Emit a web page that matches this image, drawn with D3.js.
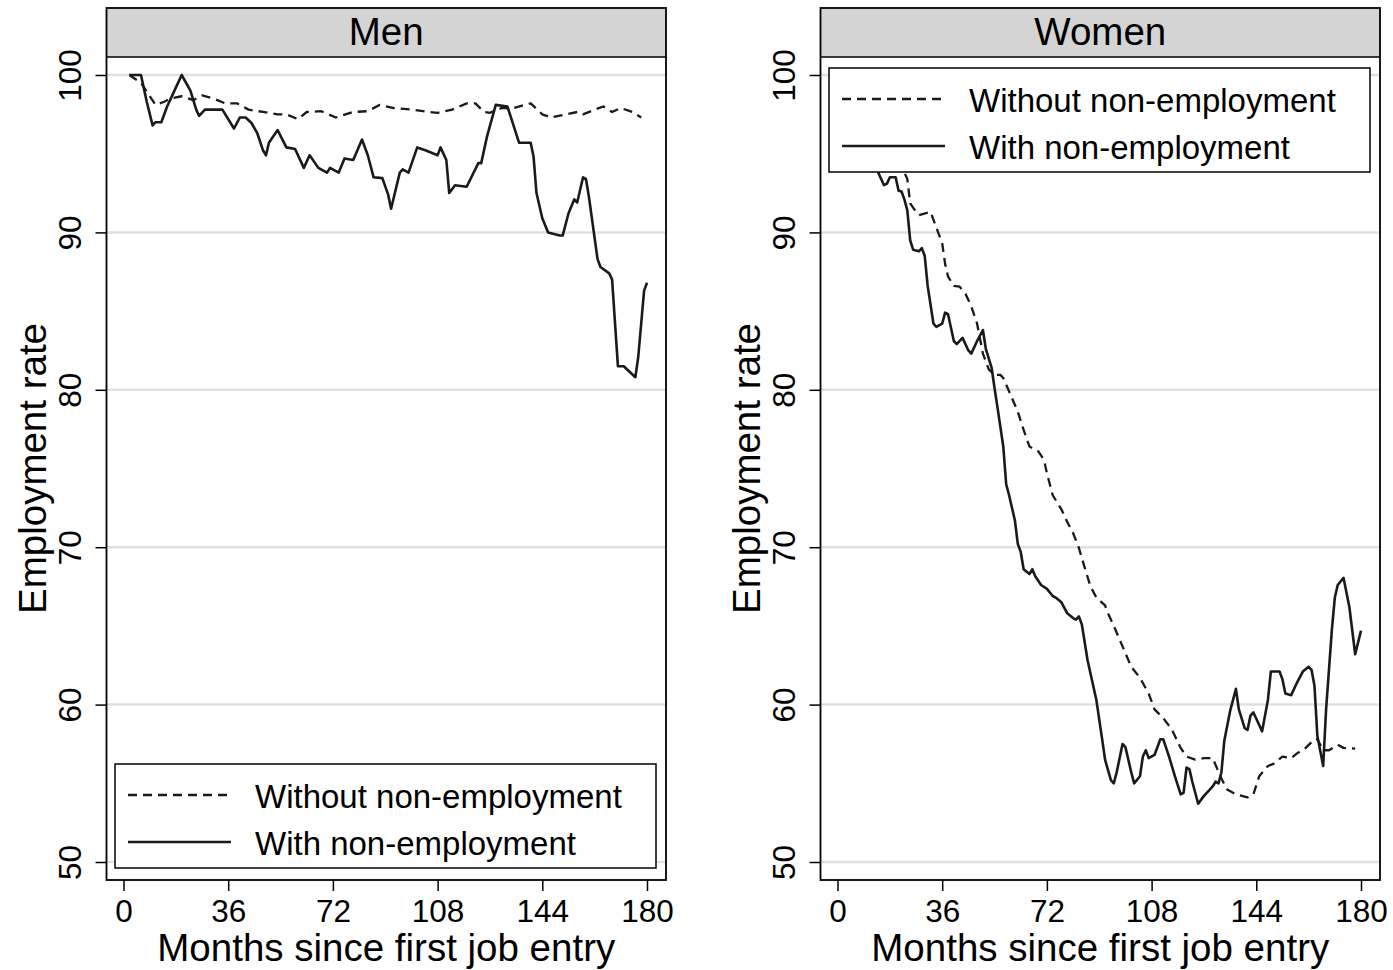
<!DOCTYPE html>
<html lang="en">
<head>
    <meta charset="UTF-8">
    <title>Employment rate by months since first job entry</title>
    <script src="https://d3js.org/d3.v7.min.js"></script>
</head>
<style>
    html,body {
        margin: 0;
        padding: 0;
        background: #fff;
    }
    svg { display: block; font-family: "Liberation Sans", Arial, Helvetica, sans-serif; }
</style>
<body>
    <div id="chart"></div>
</body>
<script>
    // ticks, labels
    const xTicks = [0, 36, 72, 108, 144, 180];
    const yTicks = [50, 60, 70, 80, 90, 100];
    const panelTitles = ["Men", "Women"];
    const seriesNames = ["Without non-employment", "With non-employment"];

    // Men
    const menWithoutMonths = [2, 6, 11, 14, 16, 20, 24, 27, 31, 35, 39, 43, 48, 53, 56, 60, 63, 68, 73, 79, 84, 88, 93, 99, 105, 108, 113, 118, 121, 124, 126, 130, 134, 140, 144, 147, 152, 156, 158, 162, 165, 168, 171, 175, 178];
    const menWithoutValues = [100, 99.5, 98.1, 98.3, 98.5, 98.65, 98.4, 98.7, 98.5, 98.2, 98.2, 97.8, 97.65, 97.5, 97.5, 97.2, 97.65, 97.7, 97.3, 97.65, 97.7, 98.1, 97.9, 97.8, 97.65, 97.6, 97.8, 98.2, 98.2, 97.65, 97.6, 97.9, 97.9, 98.2, 97.5, 97.3, 97.5, 97.65, 97.5, 97.8, 98.0, 97.65, 97.9, 97.65, 97.3];
    const menWithMonths = [2, 6, 8, 10, 11, 13, 15, 18, 20, 23, 25, 26, 28, 34, 38, 40, 42, 44, 46, 48, 49, 50, 53, 56, 59, 62, 64, 67, 70, 71, 74, 76, 79, 82, 84, 86, 89, 91, 92, 95, 96, 98, 101, 104, 108, 109, 111, 112, 114, 118, 122, 123, 125, 128, 132, 136, 140, 141, 142, 144, 146, 150, 151, 153, 155, 156, 158, 159, 160, 163, 164, 167, 168, 170, 172, 176, 177, 179, 180];
    const menWithValues = [100, 100, 98.3, 96.8, 97.0, 97.0, 98.0, 99.2, 100, 99.0, 97.8, 97.4, 97.8, 97.8, 96.6, 97.3, 97.3, 96.95, 96.3, 95.2, 94.9, 95.7, 96.5, 95.4, 95.3, 94.1, 94.9, 94.1, 93.8, 94.1, 93.8, 94.7, 94.6, 95.9, 94.9, 93.5, 93.45, 92.4, 91.5, 93.8, 94.0, 93.8, 95.4, 95.2, 94.9, 95.4, 94.6, 92.5, 93.0, 92.9, 94.4, 94.4, 96.1, 98.1, 98.0, 95.7, 95.7, 94.8, 92.5, 90.9, 90.0, 89.8, 89.8, 91.2, 92.1, 91.9, 93.5, 93.4, 92.3, 88.3, 87.8, 87.4, 87.0, 81.5, 81.5, 80.8, 82.1, 86.3, 86.8];

    // Women
    const womenWithoutMonths = [0, 5, 10, 15, 20, 22, 24, 25, 27, 28, 32, 34, 36, 37, 38, 40, 42, 44, 46, 48, 50, 52, 54, 56, 57, 59, 62, 64, 66, 69, 71, 72, 74, 77, 79, 81, 83, 85, 87, 89, 92, 93, 95, 98, 101, 104, 107, 109, 112, 115, 118, 120, 123, 126, 129, 132, 134, 137, 141, 143, 145, 148, 150, 153, 156, 158, 161, 164, 165, 167, 169, 172, 174, 178];
    const womenWithoutValues = [100, 98.8, 97.5, 96.3, 94.9, 94.2, 93.4, 91.85, 91.3, 91.1, 91.3, 90.3, 89.3, 88.0, 87.2, 86.6, 86.55, 86.1, 85.3, 84.2, 82.3, 81.3, 80.95, 80.95, 80.75, 79.9, 78.6, 77.45, 76.4, 76.1, 75.55, 74.7, 73.3, 72.4, 71.6, 70.9, 69.95, 68.7, 67.5, 66.8, 66.3, 65.8, 65.0, 63.7, 62.4, 61.7, 60.7, 59.7, 59.15, 58.4, 57.25, 56.7, 56.5, 56.6, 56.6, 55.3, 54.6, 54.3, 54.1, 54.3, 55.45, 56.1, 56.25, 56.7, 56.6, 56.9, 57.25, 57.8, 57.8, 57.1, 57.1, 57.45, 57.25, 57.2];
    const womenWithMonths = [0, 4, 8, 11, 14, 16, 17, 18, 20, 21, 22, 23, 24, 25, 26, 28, 29, 30, 31, 33, 34, 36, 37, 38, 40, 41, 43, 45, 46, 48, 50, 51, 53, 54, 55, 57, 58, 59, 61, 62, 63, 64, 66, 67, 68, 70, 72, 74, 75, 77, 79, 81, 82, 83, 84, 86, 89, 91, 92, 94, 95, 96, 98, 99, 101, 102, 104, 105, 106, 107, 109, 111, 112, 114, 116, 118, 119, 120, 121, 122, 124, 126, 128, 129, 130, 131, 132, 133, 135, 137, 138, 140, 141, 142, 143, 145, 146, 148, 149, 152, 153, 154, 156, 158, 160, 162, 163, 164, 165, 167, 168, 170, 171, 172, 174, 176, 178, 180];
    const womenWithValues = [100, 98.4, 96.7, 95.3, 93.8, 93.0, 93.1, 93.5, 93.5, 92.65, 92.6, 92.1, 91.4, 89.5, 88.9, 88.8, 89.0, 88.5, 86.6, 84.2, 84.0, 84.2, 84.9, 84.8, 83.1, 82.9, 83.3, 82.5, 82.3, 83.1, 83.8, 82.6, 81.4, 80.1, 78.9, 76.4, 74.0, 73.3, 71.7, 70.2, 69.7, 68.6, 68.3, 68.6, 68.15, 67.6, 67.35, 66.9, 66.8, 66.5, 65.8, 65.5, 65.4, 65.6, 65.1, 62.8, 60.3, 57.8, 56.5, 55.2, 55.0, 55.7, 57.5, 57.3, 55.7, 55.0, 55.45, 56.7, 57.1, 56.6, 56.8, 57.8, 57.8, 56.7, 55.45, 54.3, 54.4, 56.0, 55.9, 55.1, 53.7, 54.2, 54.6, 54.8, 55.1, 55.0, 55.7, 57.7, 59.6, 61.0, 59.7, 58.5, 58.4, 59.3, 59.5, 58.7, 58.3, 60.3, 62.1, 62.1, 61.6, 60.7, 60.6, 61.4, 62.1, 62.4, 62.2, 61.2, 58.0, 56.1, 59.7, 64.8, 66.8, 67.6, 68.05, 66.2, 63.2, 64.7];

    const svg = d3.select('#chart').append('svg')
        .attr('width', 1393)
        .attr('height', 970);

    const lineColor = '#1a1a1a';
    const dash = '9,6';

    const panels = [
        { title: panelTitles[0], left: 106.5, legendTop: 764,
          series: [d3.zip(menWithoutMonths, menWithoutValues), d3.zip(menWithMonths, menWithValues)] },
        { title: panelTitles[1], left: 820.5, legendTop: 68,
          series: [d3.zip(womenWithoutMonths, womenWithoutValues), d3.zip(womenWithMonths, womenWithValues)] }
    ];

    const plotTop = 8, stripH = 49, plotBottom = 880, panelW = 559.5;

    const y = d3.scaleLinear().domain([50, 100]).range([862, 75]);

    panels.forEach(p => {
        const g = svg.append('g');
        const x = d3.scaleLinear().domain([0, 180]).range([p.left + 17, p.left + 540.5]);

        // grid
        g.append('g')
            .selectAll('line')
            .data(yTicks)
            .enter()
            .append('line')
            .attr('x1', p.left)
            .attr('x2', p.left + panelW)
            .attr('y1', d => y(d))
            .attr('y2', d => y(d))
            .attr('stroke', '#e0e0e0')
            .attr('stroke-width', 2.5);

        // lines
        const line = d3.line().x(d => x(d[0])).y(d => y(d[1]));
        p.series.forEach((s, i) => {
            g.append('path')
                .datum(s)
                .attr('d', line)
                .attr('fill', 'none')
                .attr('stroke', lineColor)
                .attr('stroke-width', i === 0 ? 2.3 : 2.6)
                .attr('stroke-linejoin', 'round')
                .attr('stroke-dasharray', i === 0 ? dash : null);
        });

        // strip
        g.append('rect')
            .attr('x', p.left)
            .attr('y', plotTop)
            .attr('width', panelW)
            .attr('height', stripH)
            .attr('fill', '#d4d4d4');
        g.append('text')
            .attr('x', p.left + panelW / 2)
            .attr('y', plotTop + 37)
            .attr('text-anchor', 'middle')
            .attr('font-size', 38.5)
            .attr('fill', '#000')
            .text(p.title);
        g.append('line')
            .attr('x1', p.left).attr('x2', p.left + panelW)
            .attr('y1', plotTop + stripH).attr('y2', plotTop + stripH)
            .attr('stroke', '#000').attr('stroke-width', 1.5);
        // panel border
        g.append('rect')
            .attr('x', p.left)
            .attr('y', plotTop)
            .attr('width', panelW)
            .attr('height', plotBottom - plotTop)
            .attr('fill', 'none')
            .attr('stroke', '#000')
            .attr('stroke-width', 1.8);

        // legend
        const lg = g.append('g').attr('transform', `translate(${p.left + 8.5},${p.legendTop})`);
        lg.append('rect')
            .attr('width', 541)
            .attr('height', 104)
            .attr('fill', '#fff')
            .attr('stroke', '#000')
            .attr('stroke-width', 1.5);
        seriesNames.forEach((name, i) => {
            const yy = 31 + i * 47;
            lg.append('line')
                .attr('x1', 13).attr('x2', 116)
                .attr('y1', yy).attr('y2', yy)
                .attr('stroke', lineColor)
                .attr('stroke-width', i === 0 ? 2.3 : 2.6)
                .attr('stroke-dasharray', i === 0 ? dash : null);
            lg.append('text')
                .attr('x', 140)
                .attr('y', yy + 13)
                .attr('font-size', 33)
                .attr('fill', '#000')
                .text(name);
        });

        // y axis
        const ya = g.append('g')
            .attr('transform', `translate(${p.left},0)`)
            .call(d3.axisLeft(y).tickValues(yTicks).tickSize(11).tickFormat(d3.format('d')));
        ya.select('.domain').remove();
        ya.selectAll('.tick line').attr('stroke', '#000').attr('stroke-width', 1.5);
        ya.selectAll('.tick text')
            .attr('x', null).attr('dy', null)
            .attr('transform', 'translate(-26,0) rotate(-90)')
            .attr('text-anchor', 'middle')
            .attr('font-size', 31.5)
            .attr('font-family', null)
            .attr('fill', '#000');

        // x axis
        const xa = g.append('g')
            .attr('transform', `translate(0,${plotBottom})`)
            .call(d3.axisBottom(x).tickValues(xTicks).tickSize(11).tickFormat(d3.format('d')));
        xa.select('.domain').remove();
        xa.selectAll('.tick line').attr('stroke', '#000').attr('stroke-width', 1.5);
        xa.selectAll('.tick text')
            .attr('y', 42).attr('dy', null)
            .attr('font-size', 31.5)
            .attr('font-family', null)
            .attr('fill', '#000');

        // axis titles
        g.append('text')
            .attr('transform', `translate(${p.left - 60.5},${(plotTop + stripH + plotBottom) / 2}) rotate(-90)`)
            .attr('text-anchor', 'middle')
            .attr('font-size', 38.5)
            .attr('fill', '#000')
            .text('Employment rate');
        g.append('text')
            .attr('x', p.left + panelW / 2)
            .attr('y', 961)
            .attr('text-anchor', 'middle')
            .attr('font-size', 38.5)
            .attr('fill', '#000')
            .text('Months since first job entry');
    });
</script>
</html>
